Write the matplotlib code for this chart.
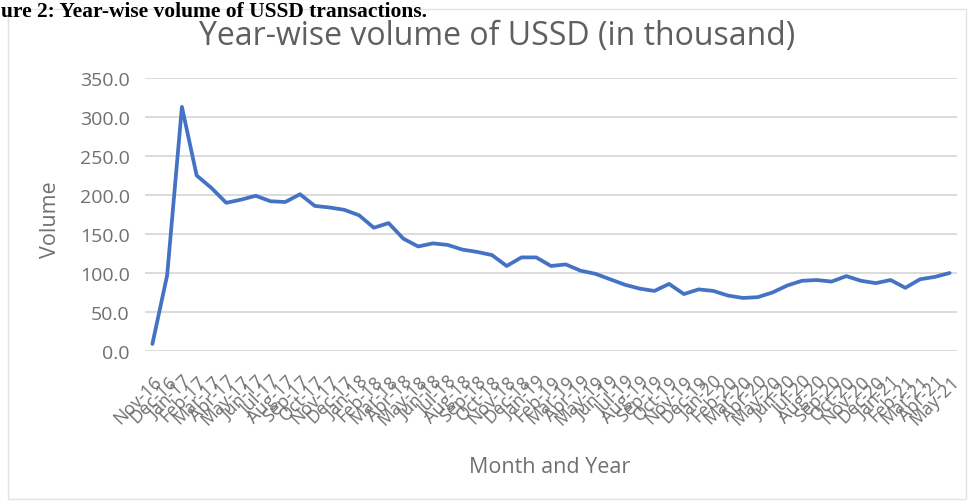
import matplotlib
matplotlib.use("Agg")
import matplotlib.pyplot as plt
from matplotlib.patches import Rectangle

# ---- data ----
months = ["Nov-16", "Dec-16",
          "Jan-17", "Feb-17", "Mar-17", "Apr-17", "May-17", "Jun-17", "Jul-17", "Aug-17", "Sep-17", "Oct-17", "Nov-17", "Dec-17",
          "Jan-18", "Feb-18", "Mar-18", "Apr-18", "May-18", "Jun-18", "Jul-18", "Aug-18", "Sep-18", "Oct-18", "Nov-18", "Dec-18",
          "Jan-19", "Feb-19", "Mar-19", "Apr-19", "May-19", "Jun-19", "Jul-19", "Aug-19", "Sep-19", "Oct-19", "Nov-19", "Dec-19",
          "Jan-20", "Feb-20", "Mar-20", "Apr-20", "May-20", "Jun-20", "Jul-20", "Aug-20", "Sep-20", "Oct-20", "Nov-20", "Dec-20",
          "Jan-21", "Feb-21", "Mar-21", "Apr-21", "May-21"]
volume = [9, 97, 313, 225, 209, 190, 194, 199, 192, 191, 201, 186, 184, 181, 174, 158,
          164, 144, 134, 138, 136, 130, 127, 123, 109, 120, 120, 109, 111, 103, 99, 92,
          85, 80, 77, 86, 73, 79, 77, 71, 68, 69, 75, 84, 90, 91, 89, 96, 90, 87, 91,
          81, 92, 95, 100]
yticks = [0, 50, 100, 150, 200, 250, 300, 350]

W, H = 972, 502
fig = plt.figure(figsize=(W / 100, H / 100), dpi=100)
fig.patch.set_facecolor("white")

# chart border
fig.patches.append(Rectangle((8 / W, 2 / H), 958 / W, 490 / H, transform=fig.transFigure,
                             fill=False, edgecolor="#e3e3e3", linewidth=1.0))

ax = fig.add_axes([145 / W, 1 - 352 / H, (957 - 145) / W, (352 - 79) / H])
x = list(range(len(months)))
ax.plot(x, volume, color="#4472C4", linewidth=2.7, solid_joinstyle="round", solid_capstyle="round", zorder=3)

ax.set_xlim(-0.5, len(months) - 0.5)
ax.set_ylim(0, 350)
ax.set_yticks(yticks)
ax.set_yticklabels([f"{v:.1f}" for v in yticks])
ax.set_xticks(x)
ax.set_xticklabels(months, rotation=45, ha="right", rotation_mode="anchor")

grey = "#707070"
ax.tick_params(axis="y", length=0, pad=11, labelsize=14, labelcolor=grey)
ax.tick_params(axis="x", length=0, pad=15, labelsize=13, labelcolor=grey)
for lab in ax.get_xticklabels() + ax.get_yticklabels():
    lab.set_fontfamily("Open Sans")

ax.grid(axis="y", color="#d9d9d9", linewidth=1.3)
ax.set_axisbelow(True)
for s in ax.spines.values():
    s.set_visible(False)

fig.text(51 / W, 1 - 220 / H, "Volume", ha="center", va="center", rotation=90,
         fontsize=15.5, color=grey, family="Open Sans")
fig.text(550 / W, 1 - 468 / H, "Month and Year", ha="center", va="center",
         fontsize=15.5, color=grey, family="Open Sans")
fig.text(497 / W, 1 - 37 / H, "Year-wise volume of USSD (in thousand)", ha="center", va="center",
         fontsize=23, color="#5f5f5f", family="Open Sans")

# caption at top of image (partly cut in the source scan)
fig.text(1 / W, 1 - 17 / H, "ure 2: Year-wise volume of USSD transactions.", ha="left", va="baseline",
         fontsize=15.5, fontweight="bold", color="black", family="Liberation Serif")

fig.savefig("out.png", dpi=100)
